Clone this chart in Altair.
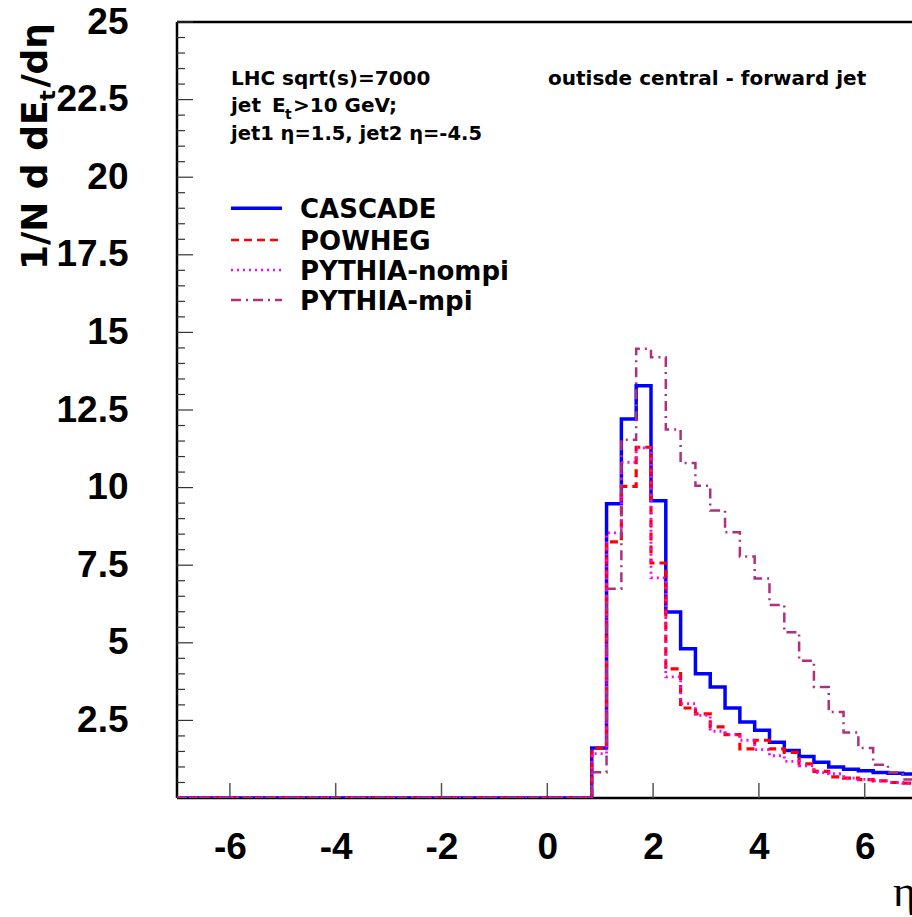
import altair as alt
import pandas as pd

# ---------------- data ----------------
series_names = ["CASCADE", "POWHEG", "PYTHIA-nompi", "PYTHIA-mpi"]
series_colors = ["#0000ff", "#ff0000", "#ff00ff", "#b0307f"]
series_dash = [[1, 0], [8, 5], [2, 4], [10, 5, 2, 5]]
series_width = [3.5, 2.5, 2.5, 2.5]

# 50 bins from -7 to 7 (width 0.28)
bin_lo, bin_width, n_bins = -7.0, 0.28, 50

cascade = [0.0, 0.0, 0.0, 0.0, 0.0, 0.0, 0.0, 0.0, 0.0, 0.0,
           0.0, 0.0, 0.0, 0.0, 0.0, 0.0, 0.0, 0.0, 0.0, 0.0,
           0.0, 0.0, 0.0, 0.0, 0.0, 0.0, 0.0, 0.0,
           1.61, 9.48, 12.21, 13.28, 9.58, 5.99, 4.81, 4.00, 3.58, 2.90,
           2.45, 2.18, 1.80, 1.53, 1.34, 1.15, 1.00, 0.93, 0.88, 0.82,
           0.80, 0.77]
powheg = [0.0, 0.0, 0.0, 0.0, 0.0, 0.0, 0.0, 0.0, 0.0, 0.0,
          0.0, 0.0, 0.0, 0.0, 0.0, 0.0, 0.0, 0.0, 0.0, 0.0,
          0.0, 0.0, 0.0, 0.0, 0.0, 0.0, 0.0, 0.0,
          1.60, 8.25, 10.04, 11.30, 7.57, 4.16, 2.90, 2.71, 2.29, 2.04,
          1.58, 1.86, 1.58, 1.47, 1.10, 0.86, 0.68, 0.64, 0.59, 0.55,
          0.50, 0.48]
nompi = [0.0, 0.0, 0.0, 0.0, 0.0, 0.0, 0.0, 0.0, 0.0, 0.0,
         0.0, 0.0, 0.0, 0.0, 0.0, 0.0, 0.0, 0.0, 0.0, 0.0,
         0.0, 0.0, 0.0, 0.0, 0.0, 0.0, 0.0, 0.0,
         1.43, 8.54, 10.81, 11.28, 7.09, 3.90, 3.04, 2.66, 2.15, 2.05,
         1.86, 1.56, 1.36, 1.18, 1.04, 0.82, 0.78, 0.64, 0.60, 0.55,
         0.50, 0.47]
mpi = [0.0, 0.0, 0.0, 0.0, 0.0, 0.0, 0.0, 0.0, 0.0, 0.0,
       0.0, 0.0, 0.0, 0.0, 0.0, 0.0, 0.0, 0.0, 0.0, 0.0,
       0.0, 0.0, 0.0, 0.0, 0.0, 0.0, 0.0, 0.0,
       0.83, 6.74, 11.54, 14.47, 14.20, 11.87, 10.79, 10.06, 9.26, 8.56,
       7.78, 7.07, 6.22, 5.34, 4.42, 3.58, 2.77, 2.11, 1.61, 1.07,
       0.82, 0.60]

x_tick_values = [-6, -4, -2, 0, 2, 4, 6]
y_tick_values = [2.5, 5, 7.5, 10, 12.5, 15, 17.5, 20, 22.5, 25]
y_minor_step = 0.5

# ---------------- build table ----------------
all_series = [cascade, powheg, nompi, mpi]
rows = []
for name, vals in zip(series_names, all_series):
    for k in range(n_bins):
        rows.append({"series": name, "eta": round(bin_lo + k * bin_width, 4), "val": vals[k]})
    rows.append({"series": name, "eta": round(bin_lo + n_bins * bin_width, 4), "val": vals[-1]})
df = pd.DataFrame(rows)

W, H = 735, 776
x_scale = alt.Scale(domain=[-7, 6.894], nice=False, zero=False)
y_scale = alt.Scale(domain=[0, 25], nice=False, zero=False)
FONT_AX = "Liberation Sans"
FONT_TX = "DejaVu Sans"

x_axis = alt.Axis(values=x_tick_values, ticks=False, tickSize=0, domain=False, grid=False,
                  labelFont=FONT_AX, labelFontSize=37, labelFontWeight="bold",
                  labelColor="black", labelPadding=31, title=None,
                  labelExpr="datum.value < 0 ? '-' + abs(datum.value) : '' + datum.value")
y_axis = alt.Axis(values=y_tick_values, ticks=False, tickSize=0, domain=False, grid=False,
                  labelFont=FONT_AX, labelFontSize=37, labelFontWeight="bold",
                  labelColor="black", labelPadding=49, title=None,
                  labelExpr="'' + datum.value")

hist = alt.Chart(df).mark_line(interpolate="step-after", clip=True).encode(
    x=alt.X("eta:Q", scale=x_scale, axis=x_axis),
    y=alt.Y("val:Q", scale=y_scale, axis=y_axis),
    color=alt.Color("series:N", scale=alt.Scale(domain=series_names, range=series_colors), legend=None),
    strokeDash=alt.StrokeDash("series:N", scale=alt.Scale(domain=series_names, range=series_dash), legend=None),
    strokeWidth=alt.StrokeWidth("series:N", scale=alt.Scale(domain=series_names, range=series_width), legend=None),
    order=alt.Order("eta:Q"),
)

# ---------------- frame + ticks ----------------
frame_df = pd.DataFrame({"k": [0]})
left_border = alt.Chart(frame_df).mark_rule(color="black", strokeWidth=2.5).encode(
    x=alt.value(0), y=alt.value(0), y2=alt.value(H))
top_border = alt.Chart(frame_df).mark_rule(color="black", strokeWidth=2.5).encode(
    x=alt.value(0), x2=alt.value(W), y=alt.value(0))
bottom_border = alt.Chart(frame_df).mark_rule(color="black", strokeWidth=2.5).encode(
    x=alt.value(0), x2=alt.value(W), y=alt.value(H))

n_minor = int(round(25 / y_minor_step))
minor_vals = [round(i * y_minor_step, 2) for i in range(1, n_minor)]
minor_vals = [v for v in minor_vals if v not in y_tick_values]
ymaj = alt.Chart(pd.DataFrame({"v": y_tick_values})).mark_rule(color="#333", strokeWidth=1.2).encode(
    y=alt.Y("v:Q", scale=y_scale, axis=y_axis), x=alt.value(0), x2=alt.value(16))
ymin = alt.Chart(pd.DataFrame({"v": minor_vals})).mark_rule(color="#333", strokeWidth=1.2).encode(
    y=alt.Y("v:Q", scale=y_scale, axis=y_axis), x=alt.value(0), x2=alt.value(8))
xmaj = alt.Chart(pd.DataFrame({"v": x_tick_values})).mark_rule(color="#555", strokeWidth=1.5).encode(
    x=alt.X("v:Q", scale=x_scale, axis=x_axis), y=alt.value(H), y2=alt.value(H - 15))

# ---------------- legend ----------------
legend_layers = []
legend_line_y = [186.3, 218.0, 248.0, 278.0]
for i, name in enumerate(series_names):
    ldf = pd.DataFrame({"series": [name]})
    legend_layers.append(
        alt.Chart(ldf).mark_rule(strokeDash=series_dash[i], strokeWidth=series_width[i],
                                 color=series_colors[i]).encode(
            x=alt.value(54), x2=alt.value(105), y=alt.value(legend_line_y[i])))
    legend_layers.append(
        alt.Chart(ldf).mark_text(align="left", baseline="middle", font=FONT_TX, fontSize=26,
                                 fontWeight="bold", color="black").encode(
            x=alt.value(123), y=alt.value(legend_line_y[i] + 1.5), text="series:N"))


def label(txt, x, y, size=20, align="left", baseline="alphabetic", font=FONT_TX,
          weight="bold", angle=0):
    kw = dict(align=align, baseline=baseline, font=font, fontSize=size, color="black")
    if weight:
        kw["fontWeight"] = weight
    if angle:
        kw["angle"] = angle
    return alt.Chart(pd.DataFrame({"t": [txt]})).mark_text(**kw).encode(
        x=alt.value(x), y=alt.value(y), text="t:N")


texts = [
    label("LHC sqrt(s)=7000", 54, 63),
    label("jet", 54, 90),
    label("E", 95, 90),
    label("t", 108, 97, size=14),
    label(">10 GeV;", 116, 90),
    label("jet1 \u03b7=1.5, jet2 \u03b7=-4.5", 54, 118, size=19.5),
    label("outisde central - forward jet", 371, 63),
    # y-axis title (rotated)
    label("1/N d dE", -130, 248, size=36, angle=270),
    label("t", -122, 73.5, size=22, align="center", angle=270),
    label("/d\u03b7", -130, 1, size=36, align="right", angle=270),
    # x-axis title
    label("\u03b7", 716, 884, size=44, font="Liberation Serif", weight=None),
]

chart = alt.layer(
    left_border, top_border, bottom_border, ymaj, ymin, xmaj, hist, *legend_layers, *texts
).properties(
    width=W, height=H,
    autosize=alt.AutoSizeParams(type="none"),
    padding={"left": 177, "top": 22, "right": 0, "bottom": 119},
    background="white",
).configure_view(stroke=None)

chart.save("out.html", embed_options={"renderer": "svg", "actions": False})
